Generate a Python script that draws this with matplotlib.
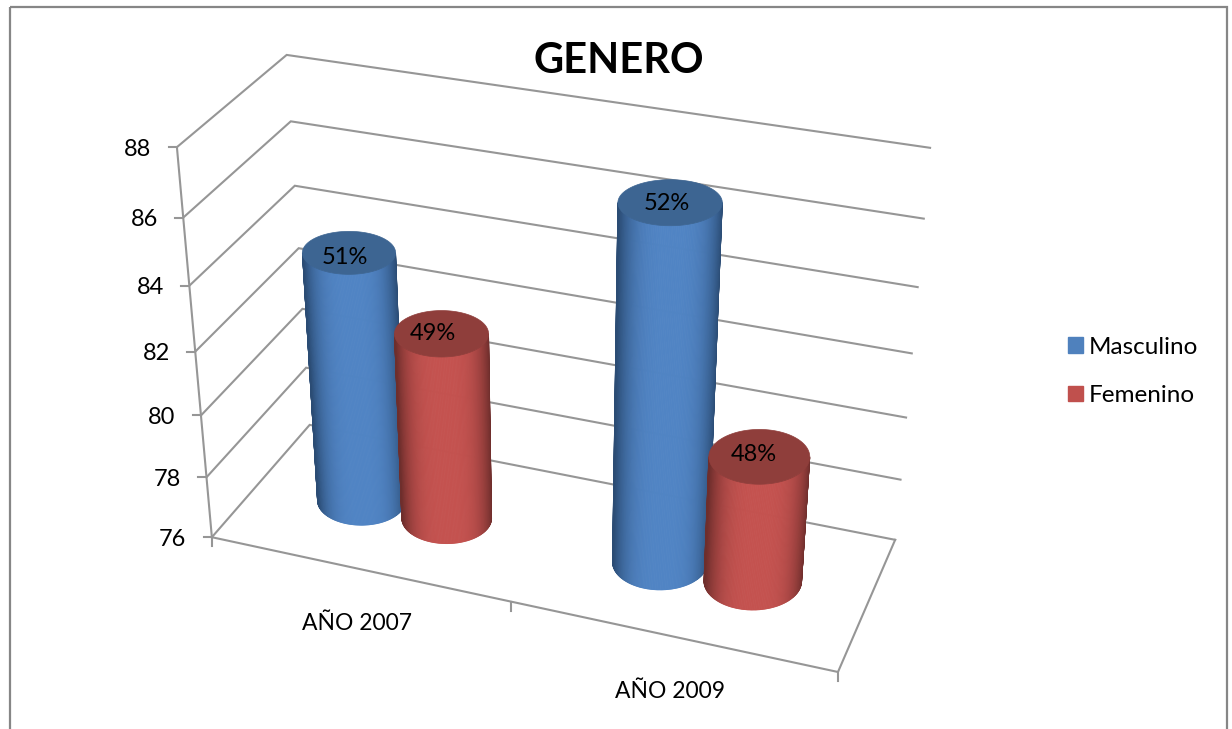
import numpy as np
import matplotlib
matplotlib.use("Agg")
import matplotlib.pyplot as plt
from matplotlib.collections import PolyCollection
from matplotlib.patches import Patch, Rectangle

plt.rcParams['font.family'] = ['Lato', 'DejaVu Sans']

categories = ["AÑO 2007", "AÑO 2009"]
series_names = ["Masculino", "Femenino"]
masculino = [84.0, 87.0]
femenino = [82.0, 80.0]
labels_masc = ["51%", "52%"]
labels_fem = ["49%", "48%"]
y_ticks = [76, 78, 80, 82, 84, 86, 88]

# (side colour, edge colour, top colour)
colors = {"Masculino": ("#5084c4", "#2b4c74", "#3d6592"),
          "Femenino": ("#c4524f", "#6e2e2c", "#8f3e3b")}
legend_colors = ["#4f81bd", "#c0504d"]

BAR_OFFSET = 0.147
RU = 0.153
W_MID = 0.49

# box corners on screen, used to fit the 3d view
view_box = [((0, 76, 0), (212, 537)), ((0, 82, 0), (195, 352)), ((0, 88, 0), (177, 147)),
            ((0, 88, 1), (287, 55)), ((0, 82, 1), (298, 248)), ((0, 76, 1), (310, 425)),
            ((2, 88, 1), (930, 148)), ((2, 82, 1), (912, 353)), ((2, 76, 1), (895, 540)),
            ((2, 76, 0), (838, 672))]


def fit_view(pairs):
    A, b = [], []
    for (u, v, w), (x, y) in pairs:
        v = (v - 76) / 12
        A.append([u, v, w, 1, 0, 0, 0, 0, -x*u, -x*v, -x*w])
        A.append([0, 0, 0, 0, u, v, w, 1, -y*u, -y*v, -y*w])
        b += [x, y]
    return np.append(np.linalg.lstsq(np.array(A, float), np.array(b, float), rcond=None)[0], 1).reshape(3, 4)


P = fit_view(view_box)


def project(u, v, w):
    u, v, w = np.broadcast_arrays(u, v, w)
    X = np.stack([u, (v - 76) / 12, w, np.ones(u.shape)])
    x, y, h = P @ X
    return x / h, y / h


def mix(c1, c2, t):
    a = np.array(matplotlib.colors.to_rgb(c1))
    b = np.array(matplotlib.colors.to_rgb(c2))
    return tuple(a + (b - a) * t)


def ring(uc, value, th):
    # circle of the cylinder as seen on screen, flatter higher up the picture
    cx, cy = project(uc, value, W_MID)
    x0, _ = project(uc - RU, value, W_MID)
    x1, _ = project(uc + RU, value, W_MID)
    a = (x1 - x0) / 2
    b = a * (0.36 + 0.0004 * cy)
    return cx + a*np.cos(th), cy + b*np.sin(th)


def cylinder(ax, uc, value, name, label, lab_dx, lab_dy):
    side, edge, top = colors[name]
    th = np.linspace(0, np.pi, 121)
    xb, yb = ring(uc, 76, th)
    xt, yt = ring(uc, value, th)
    polys, cols = [], []
    for i in range(len(th) - 1):
        polys.append([(xb[i], yb[i]), (xb[i+1], yb[i+1]), (xt[i+1], yt[i+1]), (xt[i], yt[i])])
        t = abs(np.cos(th[i] + 0.04))
        cols.append(mix(side, edge, t**3.4))
    ax.add_collection(PolyCollection(polys, facecolors=cols, edgecolors=cols, linewidths=0.6, zorder=3))
    th2 = np.linspace(0, 2*np.pi, 181)
    xt, yt = ring(uc, value, th2)
    ax.fill(xt, yt, color=top, lw=0.5, zorder=3)
    xc, yc = project(uc, value, W_MID)
    ax.text(float(xc) + lab_dx, float(yc) + lab_dy, label, ha='center', va='center',
            fontsize=FS, color='black', zorder=4)


FS = 17
W, H = 1232, 729
fig = plt.figure(figsize=(W/100, H/100), dpi=100)
ax = fig.add_axes([0, 0, 1, 1])
ax.set_xlim(0, W)
ax.set_ylim(H, 0)
ax.axis('off')

# chart frame, its bottom edge is cut off by the image
ax.add_patch(Rectangle((10, 7), 1217, 760, fill=False, ec='#868686', lw=1.6, clip_on=True))

grid = '#969696'
for v in y_ticks:
    xs, ys = project([0, 0, 2], v, [0, 1, 1])
    ax.plot(xs, ys, color=grid, lw=1.5, zorder=1, solid_joinstyle='miter')
    ax.plot([xs[0] - 8, xs[0]], [ys[0], ys[0]], color=grid, lw=1.5, zorder=1)
    ax.text(xs[0] - 39, ys[0] + 2, str(v), ha='center', va='center', fontsize=FS, color='black')

# walls and floor edges
xs, ys = project([0, 0], [76, 88], [0, 0])
ax.plot(xs, ys, color=grid, lw=1.5, zorder=1)
xs, ys = project([0, 2, 2], 76, [0, 0, 1])
ax.plot(xs, ys, color=grid, lw=1.5, zorder=1)
for u in [0, 1, 2]:
    xs, ys = project(u, 76, 0)
    ax.plot([xs, xs], [ys, ys + 9], color=grid, lw=1.5, zorder=1)

for i, cat in enumerate(categories):
    xs, ys = project(i + 0.5, 76, 0)
    ax.text(float(xs) - 1, float(ys) + 55, cat, ha='center', va='center', fontsize=FS - 0.5, color='black')

cylinder(ax, 0.5 - BAR_OFFSET, masculino[0], "Masculino", labels_masc[0], -4, 5)
cylinder(ax, 0.5 + BAR_OFFSET, femenino[0], "Femenino", labels_fem[0], -9, 0)
cylinder(ax, 1.5 - BAR_OFFSET, masculino[1], "Masculino", labels_masc[1], -3, 1)
cylinder(ax, 1.5 + BAR_OFFSET, femenino[1], "Femenino", labels_fem[1], -5, -2)

ax.text(619, 61, "GENERO", ha='center', va='center', fontsize=30, fontweight='bold', color='black')

handles = [Patch(color=c, label=n) for c, n in zip(legend_colors, series_names)]
ax.legend(handles=handles, loc='center left', bbox_to_anchor=(1068/W, 1 - 371.5/H), frameon=False,
          fontsize=17.5, labelspacing=1.12, handlelength=0.62, handleheight=0.62,
          handletextpad=0.22, borderpad=0, borderaxespad=0)

fig.savefig("out.png", dpi=100)
